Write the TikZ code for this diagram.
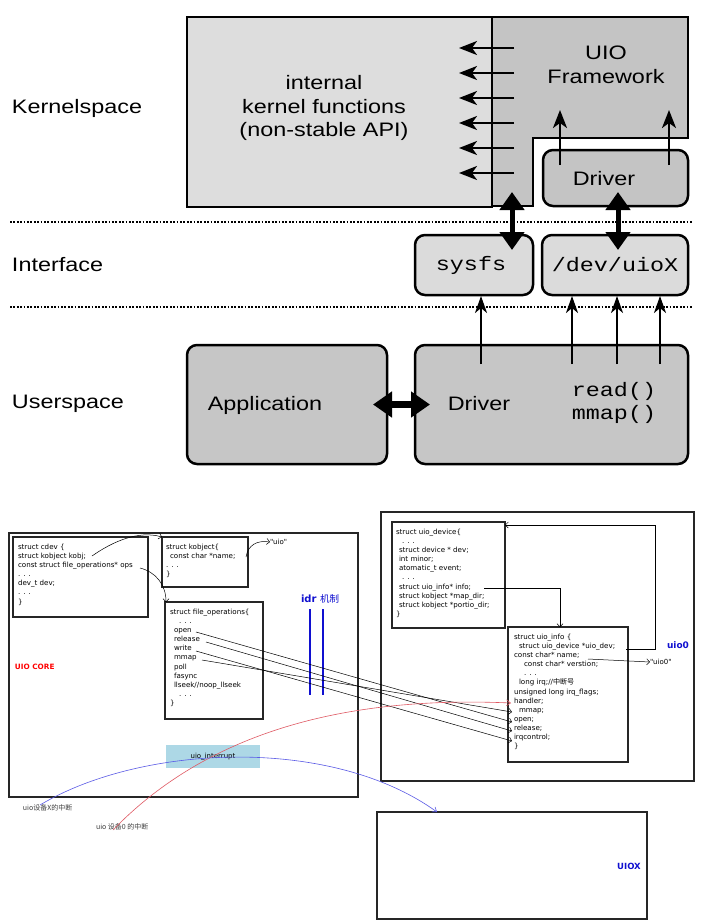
\documentclass[tikz,border=0pt]{standalone}
\usepackage{fontspec}
\usetikzlibrary{arrows.meta,calc}
\newfontfamily\topsans{Liberation Sans}[FakeStretch=1.2]
\newfontfamily\topmono{Liberation Mono}[FakeStretch=1.2]
\newfontfamily\smallsans{DejaVu Sans}
\newfontfamily\cjk{Noto Sans CJK SC}
\definecolor{klight}{HTML}{DDDDDD}
\definecolor{kdark}{HTML}{C4C4C4}
\definecolor{ilight}{HTML}{DBDBDB}
\definecolor{udark}{HTML}{C6C6C6}
\definecolor{dblue}{HTML}{1010D0}
\definecolor{cblue}{HTML}{5A5AE6}
\definecolor{cred}{HTML}{E05A64}
\definecolor{intblue}{HTML}{ADD8E6}
\begin{document}
\begin{tikzpicture}[x=1pt,y=-1pt,
  every node/.style={inner sep=0pt,outer sep=0pt},
  toplabel/.style={font=\fontsize{19.5}{23.5}\selectfont\topsans},
  monolabel/.style={font=\fontsize{19.5}{23.5}\selectfont\topmono},
  rbox/.style={draw,line width=2.5pt,rounded corners=10pt},
  thinarrow/.style={line width=2.4pt,-{Stealth[length=18pt,width=14pt,inset=5pt]}},
  bigdouble/.style={line width=5pt,{Triangle[length=18pt,width=24pt]}-{Triangle[length=18pt,width=24pt]}},
  dotline/.style={line width=1.8pt,dash pattern=on 1.8pt off 1.6pt},
  cbox/.style={draw=black!85,line width=1.3pt},
  code/.style={font=\fontsize{7.1}{9.1}\selectfont\smallsans,align=left,anchor=north west},
  codearrow/.style={line width=0.5pt,-{Straight Barb[length=3pt,width=6pt]}}]
\useasboundingbox (0,0) rectangle (701,922);
\fill[white] (0,0) rectangle (701,922);
% ---------- top half ----------
\node[toplabel,anchor=west] (lks) at (12,108) {Kernelspace};
\node[toplabel,anchor=west] (lif) at (12,265) {Interface};
\node[toplabel,anchor=west] (lus) at (12,404) {Userspace};

\node[draw,line width=2pt,fill=klight,minimum width=305,minimum height=190] (kfun) at (339.5,112) {};
\node[toplabel,align=center] (kft) at (324,108) {internal\\kernel functions\\(non-stable API)};
\draw[line width=2pt,fill=kdark] (492,17) -- (688,17) -- (688,138) -- (533,138) -- (533,206) -- (492,206) -- cycle;
\node[toplabel,align=center] (fwt) at (606,65) {UIO\\Framework};
\node[rbox,fill=kdark,minimum width=145,minimum height=56] (kdrv) at (615.5,178) {};
\node[toplabel] (kdrvt) at (604,179) {Driver};

\foreach \yy [count=\i] in {48,73,98,123,148,173}{
  \coordinate (ft\i) at (514,\yy);
  \coordinate (kh\i) at (459,\yy);
  \draw[thinarrow] (ft\i) -- (kh\i);
}
\coordinate (fa1) at (560,110);
\coordinate (fa2) at (669,110);
\draw[thinarrow] (kdrv.north -| fa1) ++(0,15) -- (fa1);
\draw[thinarrow] (kdrv.north -| fa2) ++(0,15) -- (fa2);

\coordinate (d1l) at (10,222); \coordinate (d1r) at (692,222);
\coordinate (d2l) at (10,307); \coordinate (d2r) at (692,307);
\draw[dotline] (d1l) -- (d1r);
\draw[dotline] (d2l) -- (d2r);

\node[rbox,fill=ilight,minimum width=118,minimum height=60] (sysfs) at (474,265) {};
\node[monolabel] (sysfst) at (471,265) {sysfs};
\node[rbox,fill=ilight,minimum width=146,minimum height=60,monolabel] (dev) at (615,265) {/dev/uioX};

\coordinate (sa) at (512,192);
\coordinate (da) at (618,192);
\draw[bigdouble] (sa) -- (sa |- 0,250);
\draw[bigdouble] (da) -- (da |- 0,250);

\node[rbox,fill=udark,minimum width=200,minimum height=119] (app) at (287,404.5) {};
\node[toplabel] (appt) at (265,405) {Application};
\node[rbox,fill=udark,minimum width=273,minimum height=119] (udrv) at (551.5,404.5) {};
\node[toplabel] (udrvt) at (479,404) {Driver};
\node[monolabel,align=center] (rw) at (614,403) {read()\\mmap()};
\draw[line width=7pt,{Triangle[length=19pt,width=25pt]}-{Triangle[length=19pt,width=25pt]}] ($(app.east)+(-14,0)$) -- ($(udrv.west)+(15,0)$);

\foreach \xx in {481,572,617,660}{
  \draw[line width=2.2pt,-{Stealth[length=17pt,width=12pt,inset=5pt]}] (\xx,364) -- (\xx,296);
}
% ---------- bottom half ----------
\node[cbox,minimum width=349,minimum height=264] (core) at (183.5,665) {};
\node[cbox,minimum width=135,minimum height=80] (cdev) at (80.5,577) {};
\node[code] (cdevt) at (18,544) {struct cdev \{\\struct kobject kobj;\\const struct file\_operations* ops\\. . .\\dev\_t dev;\\. . .\\\}};
\node[cbox,minimum width=86,minimum height=50] (kobj) at (205,562) {};
\node[code] (kobjt) at (166,544) {struct kobject\{\\\hspace*{4pt}const char *name;\\. . .\\\}};
\node[cbox,minimum width=98,minimum height=117] (fops) at (214,660.5) {};
\node[code] (fopst) at (170,609) {struct file\_operations\{\\\hspace*{9pt}. . .\\\hspace*{4pt}open\\\hspace*{4pt}release\\\hspace*{4pt}write\\\hspace*{4pt}mmap\\\hspace*{4pt}poll\\\hspace*{4pt}fasync\\\hspace*{4pt}llseek//noop\_llseek\\\hspace*{9pt}. . .\\\}};
\node[anchor=west,font=\fontsize{7.3}{9}\selectfont\smallsans\bfseries,text=red] (ucore) at (15,667) {UIO CORE};
\node[anchor=west,font=\fontsize{7}{9}\selectfont\smallsans] (uioq) at (270,542) {"uio"};
\node (idr) at (320,599) {\fontsize{10}{12}\selectfont\smallsans\bfseries\color{dblue}idr \cjk\mdseries\fontsize{9.5}{12}\selectfont 机制};
\draw[dblue,line width=2pt] (310,609) -- (310,695);
\draw[dblue,line width=2pt] (323,609) -- (323,695);
\node[fill=intblue,minimum width=94,minimum height=23,font=\fontsize{7}{9}\selectfont\smallsans] (uint) at (213,756.5) {uio\_interrupt};

\node[cbox,minimum width=313,minimum height=269] (uio0) at (537.5,646.5) {};
\node[cbox,minimum width=113,minimum height=106] (udev) at (448.5,575) {};
\node[code] (udevt) at (396,529) {struct uio\_device\{\\\hspace*{6pt}. . .\\\hspace*{3pt}struct device * dev;\\\hspace*{3pt}int minor;\\\hspace*{3pt}atomatic\_t event;\\\hspace*{6pt}. . .\\\hspace*{3pt}struct uio\_info* info;\\\hspace*{3pt}struct kobject *map\_dir;\\\hspace*{3pt}struct kobject *portio\_dir;\\\}};
\node[cbox,minimum width=120,minimum height=135] (uinfo) at (568,694.5) {};
\node[code] (uinfot) at (514,634) {struct uio\_info \{\\\hspace*{5pt}struct uio\_device *uio\_dev;\\const char* name;\\\hspace*{10pt}const char* verstion;\\\hspace*{10pt}. . .\\\hspace*{5pt}long irq;//{\cjk 中断号}\\unsigned long irq\_flags;\\handler;\\\hspace*{5pt}mmap;\\open;\\release;\\irqcontrol;\\\}};
\node[font=\fontsize{9}{11}\selectfont\smallsans\bfseries,text=dblue] (uio0t) at (678,645) {uio0};
\node[anchor=west,font=\fontsize{7}{9}\selectfont\smallsans] (uio0q) at (650,662) {"uio0"};

\node[cbox,minimum width=270,minimum height=107] (uiox) at (512,865.5) {};
\node[font=\fontsize{8.5}{10}\selectfont\smallsans\bfseries,text=dblue] (uioxt) at (629,866) {UIOX};

\node[anchor=west,font=\fontsize{7}{9}\selectfont\cjk,text=black!75] (lx) at (23,808) {uio设备X的中断};
\node[anchor=west,font=\fontsize{7}{9}\selectfont\cjk,text=black!75] (l0) at (96,827) {uio 设备0 的中断};

% code arrows
\draw[codearrow] (92,556) .. controls (112,542) and (138,530) .. (kobj.north west);
\draw[codearrow] (140,568) .. controls (156,572) and (166,585) .. (fops.north -| 166,0);
\draw[codearrow] (246,557) .. controls (248,545) and (257,540) .. (uioq.west);
\draw[codearrow] (484,588) -- (560,588) -- (uinfo.north -| 560,0);
\draw[codearrow] (626,649) -- (655,649) -- (655,525) -- (udev.east |- 0,525);
\draw[codearrow] (588,659) -- (uio0q.west);
\draw[codearrow] (196,632) -- (512,722);
\draw[codearrow] (206,642) -- (512,731);
\draw[codearrow] (196,651) -- (512,741);
\draw[codearrow] (202,660) -- (512,712);
\draw[cred,line width=0.6pt,-{Straight Barb[length=4pt,width=6pt]}] (113,830) .. controls (200,740) and (330,695) .. (511,703);
\draw[cblue,line width=0.6pt,-{Straight Barb[length=4pt,width=6pt]}] (40,805) .. controls (140,745) and (330,735) .. (uiox.north -| 437,0);
\end{tikzpicture}
\end{document}
